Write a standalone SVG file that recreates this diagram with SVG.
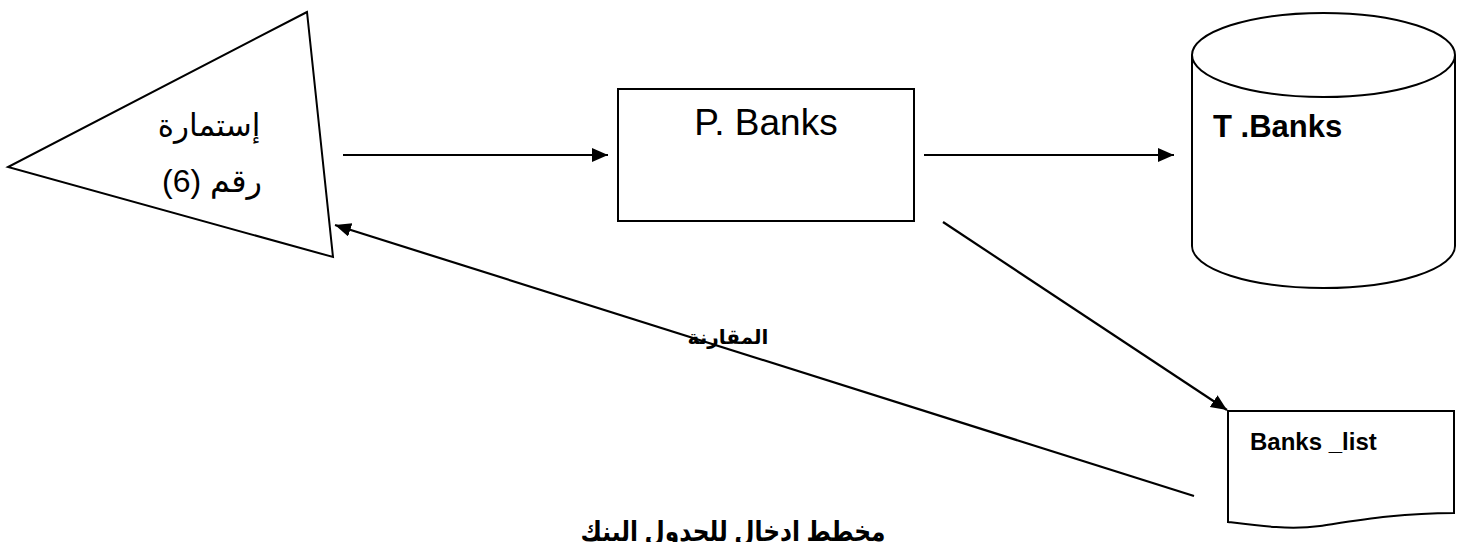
<svg xmlns="http://www.w3.org/2000/svg" width="1468" height="542" viewBox="0 0 1468 542">
<style>
.shape{fill:#fff;stroke:#000;stroke-width:2}
.conn{fill:none;stroke:#000;stroke-width:2.2}
.ar{font-family:"Liberation Sans","DejaVu Sans",sans-serif;fill:#000}
.lat{font-family:"Liberation Sans",Arial,sans-serif;fill:#000}
</style>
<defs>
<marker id="ah" markerUnits="userSpaceOnUse" markerWidth="18" markerHeight="16" refX="16" refY="7" orient="auto">
<path d="M0,0 L16,7 L0,14 Z" fill="#000"/>
</marker>
</defs>
<rect width="1468" height="542" fill="#fff"/>
<g id="connectors">
<line class="conn" x1="343" y1="155" x2="608" y2="155" marker-end="url(#ah)"/>
<line class="conn" x1="924" y1="155" x2="1174" y2="155" marker-end="url(#ah)"/>
<line class="conn" x1="943" y1="222" x2="1227" y2="410" marker-end="url(#ah)"/>
<line class="conn" x1="1194" y1="496" x2="335" y2="225" marker-end="url(#ah)"/>
<text class="ar" x="728" y="344" font-size="20" font-weight="bold" text-anchor="middle" direction="rtl">المقارنة</text>
</g>
<g id="form">
<polygon class="shape" points="307,12 8,167 333,257"/>
<text class="ar" x="209" y="136" font-size="31" text-anchor="middle" direction="rtl">إستمارة</text>
<text class="ar" x="212" y="192" font-size="32" text-anchor="middle" direction="rtl">رقم (6)</text>
</g>
<g id="process">
<rect class="shape" x="618" y="89" width="296" height="132"/>
<text class="lat" x="766" y="135" font-size="37" text-anchor="middle">P. Banks</text>
</g>
<g id="table">
<path class="shape" d="M1192,55 V246 A131.5,42 0 0 0 1455,246 V55"/>
<ellipse class="shape" cx="1323.5" cy="55" rx="131.5" ry="42"/>
<text class="lat" x="1213" y="137" font-size="31" font-weight="bold">T .Banks</text>
</g>
<g id="list">
<path class="shape" d="M1228,411 H1454 V513 C1400,513 1360,520 1320,526 C1290,530 1260,526 1228,522 Z"/>
<text class="lat" x="1250" y="450" font-size="24" font-weight="bold">Banks _list</text>
</g>
<g id="title">
<text class="ar" x="733" y="541" font-size="28" font-weight="bold" text-anchor="middle" direction="rtl" textLength="305" lengthAdjust="spacingAndGlyphs">مخطط ادخال للجدول البنك</text>
</g>
</svg>
